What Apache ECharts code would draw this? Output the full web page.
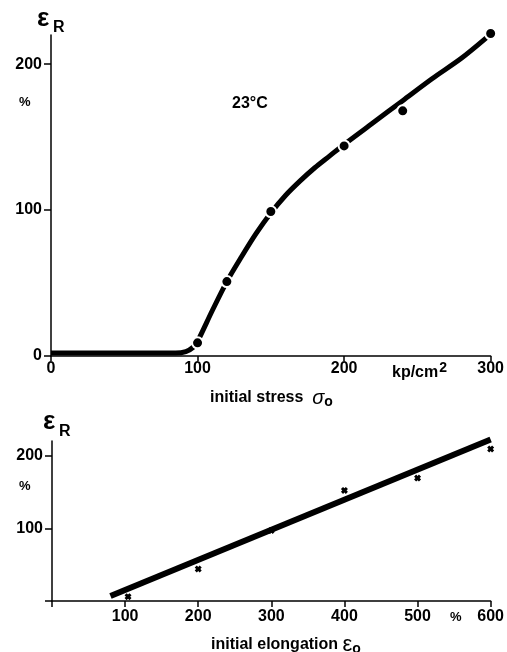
<!doctype html>
<html>
<head>
<meta charset="utf-8">
<script src="https://cdn.jsdelivr.net/npm/echarts@6/dist/echarts.min.js"></script>
<style>
    html, body { margin: 0; padding: 0; background: #fff; }
    #chart { width: 507px; height: 652px; }
</style>
</head>
<body>
<div id="chart"></div>
<script>
    // top: recovery strain vs initial stress (23°C)
    let stressCurve = [[0, 2], [50, 2], [85, 2], [92, 3], [97, 6], [100, 10], [110, 31], [120, 51], [130, 68],
        [140, 84], [150, 98], [160, 110], [170, 120], [180, 129], [190, 137], [200, 145], [220, 160], [240, 175],
        [260, 190], [280, 204], [297, 218]];
    let stressPoints = [[100, 9], [120, 51], [150, 99], [200, 144], [240, 168], [300, 221]];
    let stressTicks = [0, 100, 200, 300];
    let strainTicks = [0, 100, 200];

    // bottom: recovery strain vs initial elongation
    let elongLine = [[80, 7], [600, 222]];
    let elongPoints = [[104, 6], [200, 44], [300, 97], [400, 152], [500, 169], [600, 209]];
    let elongTicks = [0, 100, 200, 300, 400, 500, 600];
    let elongLabels = [100, 200, 300, 400, 500, 600];
    let strain2Labels = [100, 200];

    const font = '"Liberation Sans", Arial, sans-serif';
    const crossPath = 'path://M0,3L3,0L5,2L7,0L10,3L8,5L10,7L7,10L5,8L3,10L0,7L2,5Z';

    function axisStyle() {
        return {
            axisLine: {show: true, onZero: false, lineStyle: {color: '#000', width: 1.5}},
            splitLine: {show: false},
        };
    }

    function labelStyle(values, margin) {
        return {customValues: values, color: '#000', fontFamily: font, fontWeight: 'bold', fontSize: 16, margin: margin};
    }

    let chart = echarts.init(document.getElementById('chart'));
    let option = {
        animation: false,
        backgroundColor: '#fff',
        grid: [
            {left: 51, top: 35, width: 440, height: 321},
            {left: 52, top: 441, width: 439, height: 160}
        ],
        xAxis: [
            Object.assign(axisStyle(), {
                type: 'value', gridIndex: 0, min: 0, max: 300, interval: 100,
                axisTick: {show: true, length: 5, lineStyle: {color: '#000', width: 1.5}, customValues: stressTicks},
                axisLabel: labelStyle(stressTicks, 5)
            }),
            Object.assign(axisStyle(), {
                type: 'value', gridIndex: 1, min: 0, max: 600, interval: 100,
                axisTick: {show: true, length: 6, lineStyle: {color: '#000', width: 1.5}, customValues: elongTicks},
                axisLabel: labelStyle(elongLabels, 8)
            })
        ],
        yAxis: [
            Object.assign(axisStyle(), {
                type: 'value', gridIndex: 0, min: 0, max: 220, interval: 100,
                axisTick: {show: true, length: 7, lineStyle: {color: '#000', width: 1.5}, customValues: strainTicks},
                axisLabel: labelStyle(strainTicks, 9)
            }),
            Object.assign(axisStyle(), {
                type: 'value', gridIndex: 1, min: 0, max: 220, interval: 100,
                axisTick: {show: true, length: 7, lineStyle: {color: '#000', width: 1.5}, customValues: strainTicks},
                axisLabel: labelStyle(strain2Labels, 9)
            })
        ],
        series: [
            {
                type: 'line', xAxisIndex: 0, yAxisIndex: 0, data: stressCurve, smooth: 0.3,
                symbol: 'none', clip: false, lineStyle: {color: '#000', width: 5}, z: 2
            },
            {
                type: 'scatter', xAxisIndex: 0, yAxisIndex: 0, data: stressPoints, symbol: 'circle', symbolSize: 11,
                clip: false, itemStyle: {color: '#000', opacity: 1, borderColor: '#fff', borderWidth: 2}, z: 3
            },
            {
                type: 'line', xAxisIndex: 1, yAxisIndex: 1, data: elongLine, clip: false,
                symbol: 'none', lineStyle: {color: '#000', width: 6}, z: 2
            },
            {
                type: 'scatter', xAxisIndex: 1, yAxisIndex: 1, data: elongPoints, symbol: crossPath, symbolSize: 7,
                clip: false, itemStyle: {color: '#000', opacity: 1}, z: 3
            }
        ],
        graphic: [
            // top chart texts
            {type: 'text', left: 37, top: 6, style: {text: 'ε', font: 'bold 26px ' + font, fill: '#000'}},
            {type: 'text', left: 53, top: 20, style: {text: 'R', font: 'bold 16px ' + font, fill: '#000'}},
            {type: 'text', left: 19, top: 96, style: {text: '%', font: 'bold 13px ' + font, fill: '#000'}},
            {type: 'text', left: 232, top: 96, style: {text: '23°C', font: 'bold 16px ' + font, fill: '#000'}},
            {
                type: 'text', left: 392, top: 361, style: {
                    text: 'kp/cm{sup|2}', font: 'bold 16px ' + font, fill: '#000',
                    rich: {sup: {fontSize: 14, fontWeight: 'bold', fontFamily: font, verticalAlign: 'top', padding: [0, 0, 9, 1]}}
                }
            },
            {
                type: 'text', left: 210, top: 388, style: {
                    text: 'initial stress  {g|σ}{s|o}', font: 'bold 16px ' + font, fill: '#000',
                    rich: {
                        g: {fontSize: 20, fontFamily: font, fontStyle: 'italic'},
                        s: {fontSize: 14, fontFamily: font, fontWeight: 'bold', padding: [8, 0, 0, 0]}
                    }
                }
            },
            // bottom chart texts
            {type: 'text', left: 43, top: 409, style: {text: 'ε', font: 'bold 26px ' + font, fill: '#000'}},
            {type: 'text', left: 59, top: 424, style: {text: 'R', font: 'bold 16px ' + font, fill: '#000'}},
            {type: 'text', left: 19, top: 480, style: {text: '%', font: 'bold 13px ' + font, fill: '#000'}},
            {type: 'text', left: 450, top: 611, style: {text: '%', font: 'bold 13px ' + font, fill: '#000'}},
            {
                type: 'text', left: 211, top: 634, style: {
                    text: 'initial elongation {g|ε}{s|o}', font: 'bold 16px ' + font, fill: '#000',
                    rich: {
                        g: {fontSize: 22, fontFamily: font},
                        s: {fontSize: 14, fontFamily: font, fontWeight: 'bold', padding: [8, 0, 0, 0]}
                    }
                }
            }
        ]
    };
    chart.setOption(option);
</script>
</body>
</html>
